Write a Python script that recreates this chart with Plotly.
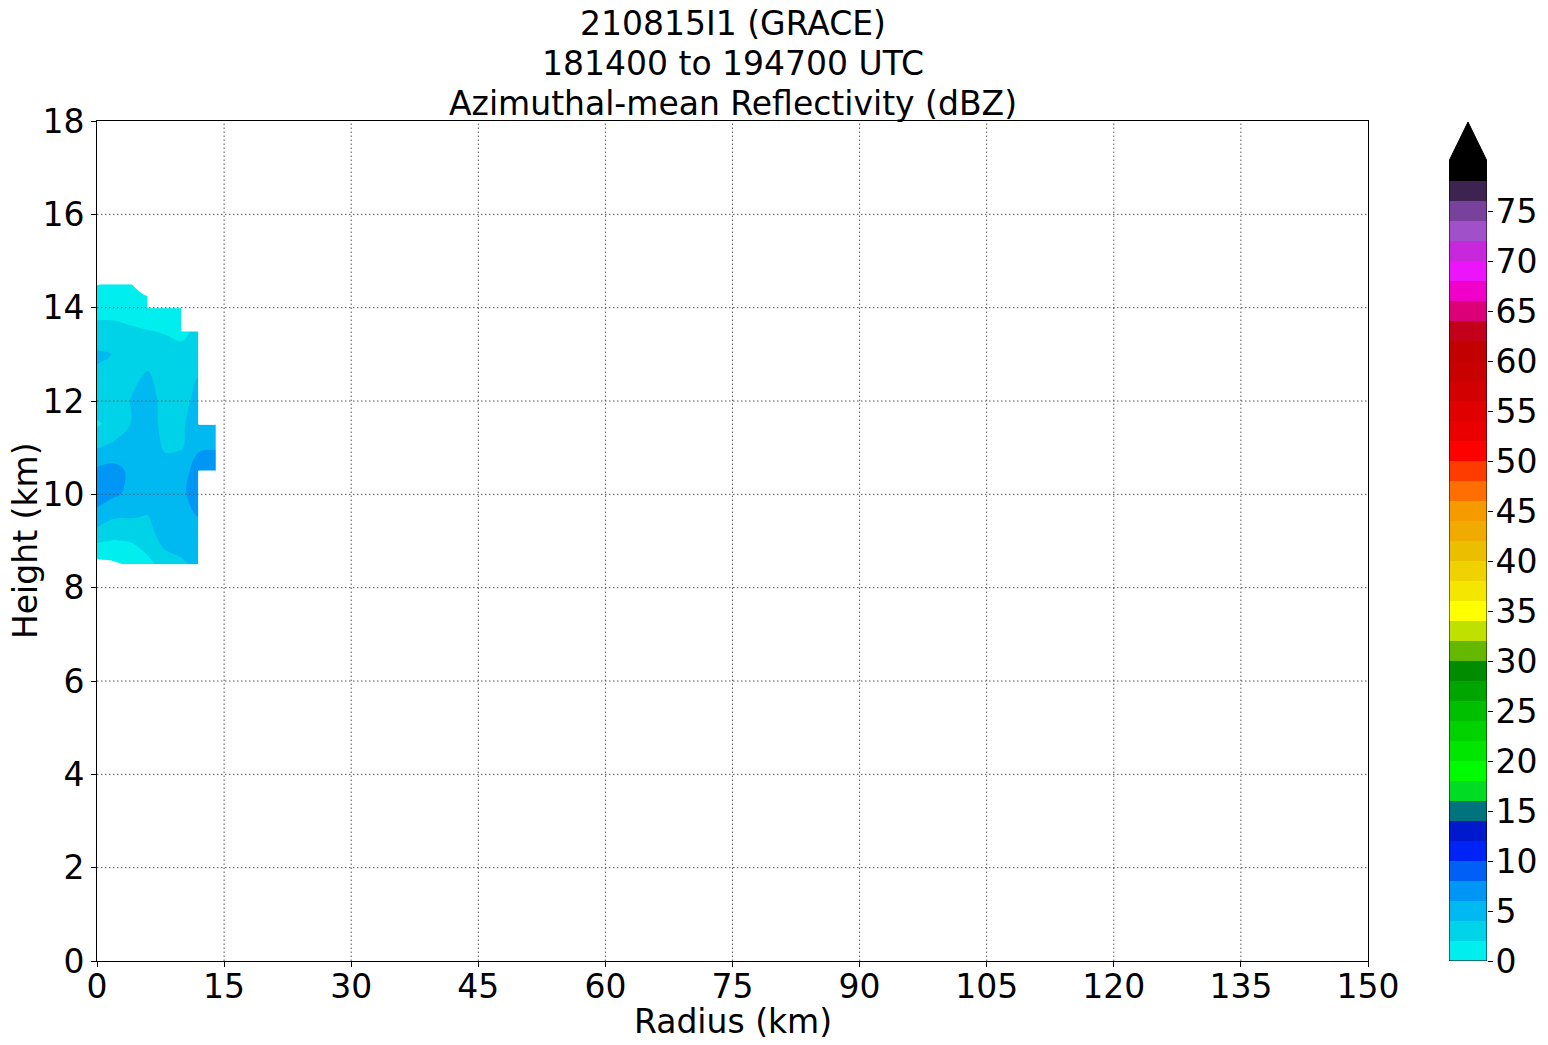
import plotly.graph_objects as go

# ---------------- data ----------------
radius_km = [0, 2, 4, 6, 8, 10, 12, 14]
height_km = [8.5, 9.0, 9.5, 10.0, 10.5, 11.0, 11.5, 12.0, 12.5, 13.0, 13.5, 14.0, 14.5]
N = None
refl_dbz = [
    [-0.6, -0.3, 0.3, 1.4, 2.9, 3.7, 4.45, N],     # 8.5
    [2.2, 1.9, 2.1, 3.0, 4.6, 4.8, 5.2, N],        # 9.0
    [5.3, 4.1, 4.05, 3.9, 5.0, 5.2, 6.0, N],       # 9.5
    [6.9, 6.3, 5.6, 4.8, 4.8, 5.8, 6.5, N],        # 10.0
    [6.4, 6.7, 5.6, 5.2, 4.8, 5.3, 6.8, 7.0],      # 10.5
    [3.9, 4.6, 5.0, 5.0, 3.8, 3.85, 5.8, 5.9],     # 11.0
    [1.8, 2.5, 4.05, 4.6, 3.6, 3.7, 5.2, 5.0],     # 11.5
    [2.8, 2.9, 4.05, 4.6, 3.5, 3.4, 4.6, N],       # 12.0
    [3.6, 3.3, 3.7, 4.2, 3.4, 3.0, 4.05, N],       # 12.5
    [4.3, 3.95, 3.2, 3.5, 2.55, 2.5, 3.3, N],      # 13.0
    [2.6, 2.5, 2.15, 2.05, 1.9, 1.6, 2.4, N],      # 13.5
    [1.3, 1.4, 1.5, 1.0, 1.7, 1.5, N, N],          # 14.0
    [-0.05, 0.2, 0.05, -1.0, N, N, N, N],          # 14.5
]

level_start, level_end, level_step = 0, 80, 2
band_colors = [
    "#00eeee", "#00d2e8", "#00b9f0", "#0096f5", "#005ff5", "#0023f5", "#0019cd", "#00737d",
    "#00dc23", "#00fa00", "#00e600", "#00d200", "#00be00", "#00a500", "#008c00", "#64b900",
    "#bee100", "#ffff00", "#f5e600", "#f0d200", "#ebbe00", "#f0aa00", "#f59b00", "#ff6e00",
    "#ff3c00", "#ff0000", "#eb0000", "#e10000", "#d20000", "#c80000", "#c30000", "#c30019",
    "#dc0078", "#f000c8", "#eb14fa", "#c828dc", "#a050c8", "#78419b", "#3c2350", "#000000",
]
over_color = "#000000"
under_color = "#ffffff"

x_ticks = list(range(0, 151, 15))
y_ticks = list(range(0, 19, 2))
cbar_ticks = list(range(0, 80, 5))

title_lines = ["210815I1 (GRACE)", "181400 to 194700 UTC", "Azimuthal-mean Reflectivity (dBZ)"]
x_label = "Radius (km)"
y_label = "Height (km)"

# ---------------- geometry ----------------
W, Hpx = 1548, 1045
ML, MR, MT, MB = 97, 52, 121, 84
PW, PH = W - ML - MR, Hpx - MT - MB
ax_right_px = 1368
cb_left_px, cb_right_px = 1449, 1487
cb_top_px = 161


def px_to_paper_x(px):
    return (px - ML) / PW


def px_to_paper_y(py):
    return (Hpx - MB - py) / PH


FONT = "DejaVu Sans"
FS = 33
GRID = dict(color="#555555", width=1, dash="1.5px,2.5px")

# ---------------- colorscales ----------------
nlev = int((level_end - level_start) / level_step) + 1  # 41 levels
region_colors = [under_color] + band_colors + [over_color]  # 42 regions
nreg = len(region_colors)
cont_scale = []
for k, c in enumerate(region_colors):
    lo = max(0.0, (k - 0.5) / (nreg - 1))
    hi = min(1.0, (k + 0.5) / (nreg - 1))
    cont_scale.append([lo, c])
    cont_scale.append([hi, c])

nb = len(band_colors)
bar_scale = []
for k, c in enumerate(band_colors):
    bar_scale.append([k / nb, c])
    bar_scale.append([(k + 1) / nb, c])

fig = go.Figure()

# filled contours
fig.add_trace(go.Contour(
    x=radius_km, y=height_km, z=refl_dbz,
    autocontour=False,
    contours=dict(start=level_start, end=level_end, size=level_step, coloring="fill", showlines=False),
    colorscale=cont_scale, showscale=False, line=dict(width=0),
    connectgaps=False, hoverinfo="skip",
))

# blank out grid cells that touch a missing node (as matplotlib contourf does)
mx, my = [], []
for j in range(len(height_km) - 1):
    for i in range(len(radius_km) - 1):
        corners = [refl_dbz[j][i], refl_dbz[j][i + 1], refl_dbz[j + 1][i], refl_dbz[j + 1][i + 1]]
        if any(v is None for v in corners):
            x0, x1 = radius_km[i], radius_km[i + 1]
            y0, y1 = height_km[j], height_km[j + 1]
            mx += [x0, x1, x1, x0, x0, None]
            my += [y0, y0, y1, y1, y0, None]
fig.add_trace(go.Scatter(
    x=mx, y=my, mode="lines", fill="toself", fillcolor="white",
    line=dict(color="white", width=1), hoverinfo="skip", showlegend=False,
))

# colorbar
levels = [level_start + k * level_step for k in range(nlev)]
fig.add_trace(go.Heatmap(
    x=[0, 1], y=levels, z=[[k] for k in range(nb)],
    colorscale=bar_scale, zmin=-0.5, zmax=nb - 0.5, showscale=False,
    hoverinfo="skip", xaxis="x2", yaxis="y2",
))
cb_top_val = level_start + (level_end - level_start) * PH / (Hpx - MB - cb_top_px)
tri_top = cb_top_val - 0.1
fig.add_trace(go.Scatter(
    x=[0, 1, 0.5, 0], y=[level_end, level_end, tri_top, level_end],
    fill="toself", fillcolor=over_color, mode="lines", line=dict(color="black", width=1),
    xaxis="x2", yaxis="y2", hoverinfo="skip", showlegend=False,
))
fig.add_trace(go.Scatter(
    x=[0, 0, 1, 1, 0], y=[level_end, level_start, level_start, level_end, level_end],
    mode="lines", line=dict(color="black", width=1),
    xaxis="x2", yaxis="y2", hoverinfo="skip", showlegend=False,
))

# gridlines above the fills
shapes = []
for xv in x_ticks[1:-1]:
    shapes.append(dict(type="line", xref="x", yref="y", x0=xv, x1=xv, y0=y_ticks[0], y1=y_ticks[-1],
                       line=GRID, layer="above"))
for yv in y_ticks[1:-1]:
    shapes.append(dict(type="line", xref="x", yref="y", x0=x_ticks[0], x1=x_ticks[-1], y0=yv, y1=yv,
                       line=GRID, layer="above"))

annotations = []
title_y_px = [24, 63, 103]
for t, ypx in zip(title_lines, title_y_px):
    annotations.append(dict(text=t, xref="paper", yref="paper",
                            x=px_to_paper_x((ML + ax_right_px) / 2), y=px_to_paper_y(ypx),
                            xanchor="center", yanchor="middle", showarrow=False,
                            font=dict(family=FONT, size=FS, color="black")))
annotations.append(dict(text=x_label, xref="paper", yref="paper",
                        x=px_to_paper_x((ML + ax_right_px) / 2), y=px_to_paper_y(1021),
                        xanchor="center", yanchor="middle", showarrow=False,
                        font=dict(family=FONT, size=FS, color="black")))
annotations.append(dict(text=y_label, xref="paper", yref="paper", textangle=-90,
                        x=px_to_paper_x(25), y=px_to_paper_y((MT + Hpx - MB) / 2),
                        xanchor="center", yanchor="middle", showarrow=False,
                        font=dict(family=FONT, size=FS, color="black")))

fig.update_layout(
    template="none",
    width=W, height=Hpx, autosize=False,
    margin=dict(l=ML, r=MR, t=MT, b=MB, pad=0),
    paper_bgcolor="white", plot_bgcolor="white",
    font=dict(family=FONT, size=FS, color="black"),
    showlegend=False,
    xaxis=dict(domain=[0, px_to_paper_x(ax_right_px)], range=[x_ticks[0], x_ticks[-1]],
               tickvals=x_ticks, ticks="outside", ticklen=5, tickwidth=1, tickcolor="black",
               showline=True, linecolor="black", linewidth=1, mirror=True, showgrid=False,
               zeroline=False, layer="above traces", anchor="y", automargin=False,
               ticklabelstandoff=-9),
    yaxis=dict(domain=[0, 1], range=[y_ticks[0], y_ticks[-1]],
               tickvals=y_ticks, ticks="outside", ticklen=5, tickwidth=1, tickcolor="black",
               showline=True, linecolor="black", linewidth=1, mirror=True, showgrid=False,
               zeroline=False, layer="above traces", anchor="x", automargin=False,
               ticklabelstandoff=0),
    xaxis2=dict(domain=[px_to_paper_x(cb_left_px), px_to_paper_x(cb_right_px)], range=[0, 1],
                showticklabels=False, ticks="", showgrid=False, zeroline=False, showline=False,
                anchor="y2", fixedrange=True, automargin=False),
    yaxis2=dict(domain=[0, 1], range=[level_start, cb_top_val],
                side="right", anchor="x2", tickvals=cbar_ticks, ticks="outside", ticklen=5,
                tickwidth=1, tickcolor="black", showgrid=False, zeroline=False, showline=False,
                fixedrange=True, automargin=False, ticklabelstandoff=-4),
    shapes=shapes,
    annotations=annotations,
)

fig.write_html("out.html", config={"displayModeBar": False},
               post_script="document.body.style.margin='0';")
